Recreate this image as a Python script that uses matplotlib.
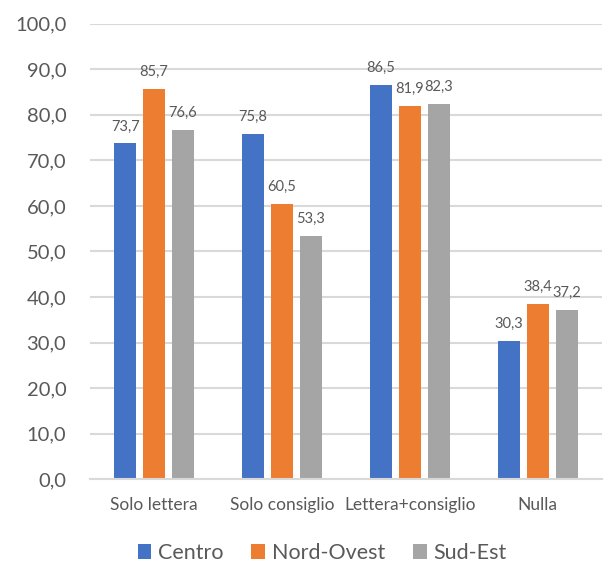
import matplotlib.pyplot as plt
import numpy as np
from matplotlib.patches import Patch

categories = ["Solo lettera", "Solo consiglio", "Lettera+consiglio", "Nulla"]
series_names = ["Centro", "Nord-Ovest", "Sud-Est"]
centro = [73.7, 75.8, 86.5, 30.3]
nord_ovest = [85.7, 60.5, 81.9, 38.4]
sud_est = [76.6, 53.3, 82.3, 37.2]
y_ticks = [0, 10, 20, 30, 40, 50, 60, 70, 80, 90, 100]

colors = ["#4472C4", "#ED7D31", "#A5A5A5"]
text_color = "#595959"
grid_color = "#D9D9D9"

plt.rcParams["font.family"] = ["Lato", "DejaVu Sans"]

fig = plt.figure(figsize=(6.16, 5.65), dpi=100)
ax = fig.add_axes([0.146, 0.152, 0.831, 0.806])

x = np.arange(len(categories))
width = 0.172
step = 0.225
for i, (vals, name, c) in enumerate(zip([centro, nord_ovest, sud_est], series_names, colors)):
    pos = x + (i - 1) * step
    ax.bar(pos, vals, width, color=c, label=name, zorder=3)
    for xp, v in zip(pos, vals):
        ax.text(xp, v + 2.2, f"{v:.1f}".replace(".", ","), ha="center", va="bottom",
                fontsize=10.5, color=text_color)

ax.set_xlim(-0.5, len(categories) - 0.5)
ax.set_ylim(0, 100)
ax.set_yticks(y_ticks)
ax.set_yticklabels([f"{t:.1f}".replace(".", ",") for t in y_ticks])
ax.set_xticks(x)
ax.set_xticklabels(categories)
ax.tick_params(axis="y", length=0, labelsize=14.5, labelcolor=text_color, pad=17)
ax.tick_params(axis="x", length=0, labelsize=12.5, labelcolor=text_color, pad=13)
ax.yaxis.grid(True, color=grid_color, linewidth=1.5, zorder=0)
for s in ["top", "right", "left"]:
    ax.spines[s].set_visible(False)
ax.spines["bottom"].set_color(grid_color)
ax.spines["bottom"].set_linewidth(1.5)
ax.spines["bottom"].set_zorder(4)

handles = [Patch(facecolor=c, label=n) for c, n in zip(colors, series_names)]
fig.legend(handles=handles, loc="center", bbox_to_anchor=(0.523, 0.021), ncol=3,
           frameon=False, fontsize=15.5, labelcolor=text_color, handlelength=0.65,
           handleheight=0.65, handletextpad=0.3, columnspacing=1.3)

fig.savefig("out.png", dpi=100)
